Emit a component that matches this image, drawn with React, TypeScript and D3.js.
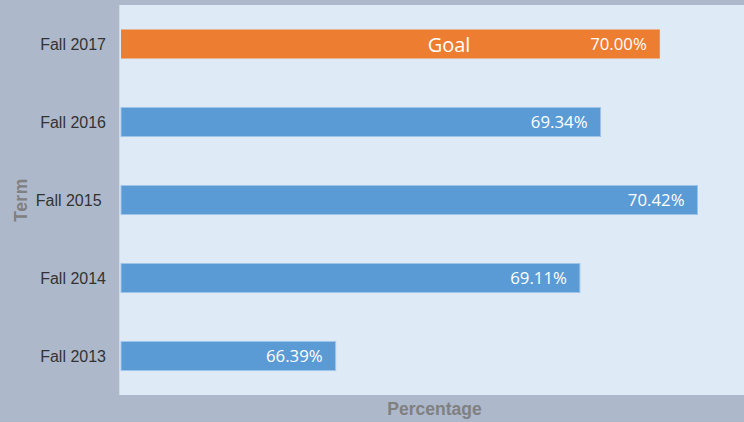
import React from "react";
import * as d3 from "d3";

const terms = ["Fall 2017", "Fall 2016", "Fall 2015 ", "Fall 2014", "Fall 2013"];
const values = [70.0, 69.34, 70.42, 69.11, 66.39];
const isGoal = [true, false, false, false, false];
const goalLabel = "Goal";
const xTitle = "Percentage";
const yTitle = "Term";

const W = 744;
const H = 422;
const plot = { left: 120, top: 5, right: 744, bottom: 395 };

export default function App() {
  const x = d3.scaleLinear().domain([64, 71]).range([121, 121 + 7 * 89.8]);
  const y = d3
    .scaleBand<string>()
    .domain(terms)
    .range([plot.top, plot.bottom])
    .paddingInner(0.628)
    .paddingOuter(0.314);
  const fmt = (v: number) => v.toFixed(2) + "%";

  return (
    <svg
      width={W}
      height={H}
      style={{ position: "absolute", left: 0, top: 0, display: "block" }}
    >
      <defs>
        <clipPath id="plotclip">
          <rect x={plot.left} y={plot.top} width={plot.right - plot.left} height={plot.bottom - plot.top} />
        </clipPath>
      </defs>
      <rect x={0} y={0} width={W} height={H} fill="#adb8cb" />
      <rect
        x={plot.left}
        y={plot.top}
        width={plot.right - plot.left}
        height={plot.bottom - plot.top}
        fill="#deeaf6"
      />
      <line x1={119.5} x2={119.5} y1={plot.top} y2={plot.bottom} stroke="#d3d8e1" strokeWidth={1} />
      <g clipPath="url(#plotclip)">
        {terms.map((t, i) => {
          const y0 = y(t) as number;
          const bw = y.bandwidth();
          const x1 = x(values[i]);
          return (
            <g key={t}>
              <rect
                x={x(64)}
                y={y0}
                width={x1 - x(64)}
                height={bw}
                fill={isGoal[i] ? "#ed7d31" : "#5b9bd5"}
                stroke={isGoal[i] ? "none" : "#9fc4e8"}
                strokeWidth={1}
              />
              <text
                x={x1 - 13}
                y={y0 + bw / 2 + 6}
                textAnchor="end"
                fill="#ffffff"
                fontFamily="'Open Sans', 'Noto Sans', sans-serif"
                fontSize={16.8}
              >
                {fmt(values[i])}
              </text>
              {isGoal[i] && (
                <text
                  x={449}
                  y={y0 + bw / 2 + 7.5}
                  textAnchor="middle"
                  fill="#ffffff"
                  fontFamily="'Open Sans', 'Noto Sans', sans-serif"
                  fontSize={20}
                >
                  {goalLabel}
                </text>
              )}
            </g>
          );
        })}
      </g>
      {terms.map((t) => (
        <text
          key={"l" + t}
          x={106}
          y={(y(t) as number) + y.bandwidth() / 2 + 5.5}
          textAnchor="end"
          fill="#333333"
          fontFamily="'Liberation Sans', Arial, sans-serif"
          fontSize={16}
          style={{ whiteSpace: "pre" }}
        >
          {t}
        </text>
      ))}
      <text
        x={434.5}
        y={414.5}
        textAnchor="middle"
        fill="#808080"
        fontFamily="'Liberation Sans', Arial, sans-serif"
        fontWeight="bold"
        fontSize={17.5}
      >
        {xTitle}
      </text>
      <text
        transform={`translate(26.5,200) rotate(-90)`}
        textAnchor="middle"
        fill="#808080"
        fontFamily="'Liberation Sans', Arial, sans-serif"
        fontWeight="bold"
        fontSize={17.5}
        letterSpacing={0.5}
      >
        {yTitle}
      </text>
    </svg>
  );
}
